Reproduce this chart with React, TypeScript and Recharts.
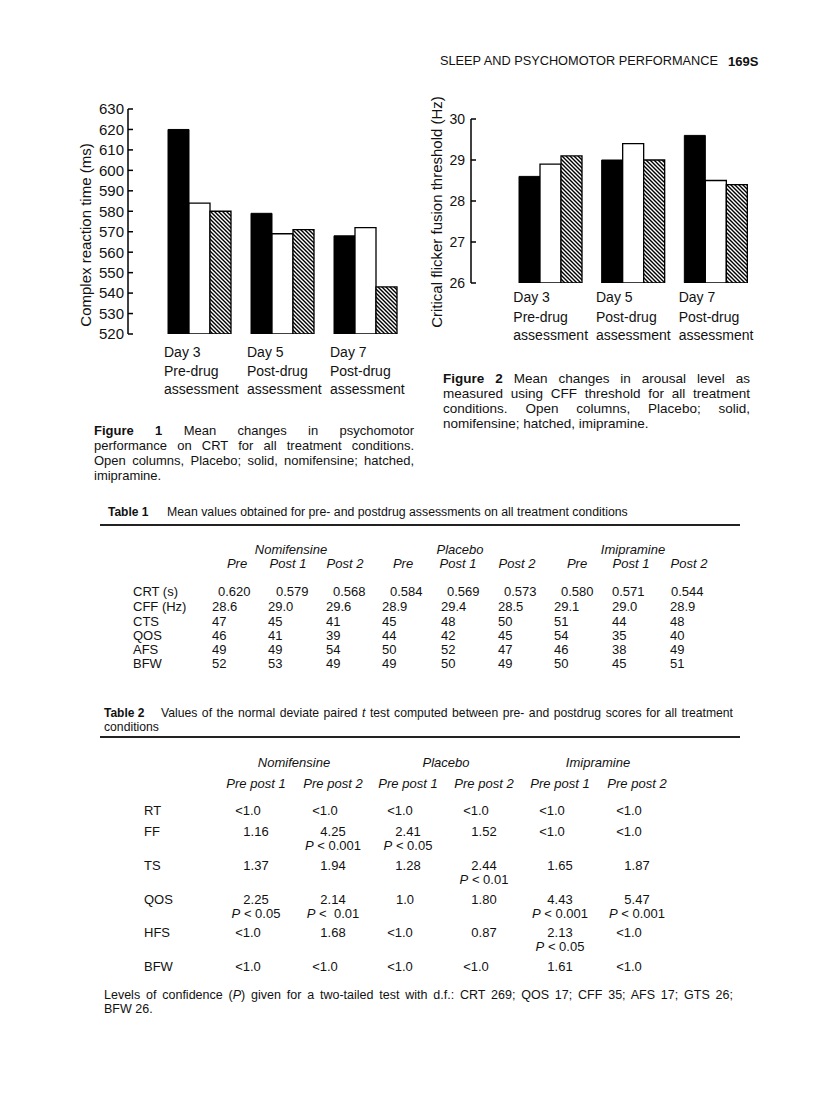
import React from 'react';
import { BarChart, Bar, XAxis, YAxis } from 'recharts';

const FONT = '"Liberation Sans", Arial, Helvetica, sans-serif';
const INK = '#111';

// ---------- Figure data ----------
const dayLabels = ['Day 3', 'Day 5', 'Day 7'];
const phaseLabels = ['Pre-drug', 'Post-drug', 'Post-drug'];
const thirdLabels = ['assessment', 'assessment', 'assessment'];

const crtNomifensine = [620, 579, 568];
const crtPlacebo = [584, 569, 572];
const crtImipramine = [580, 571, 543];
const crtTicks = [520, 530, 540, 550, 560, 570, 580, 590, 600, 610, 620, 630];

const cffNomifensine = [28.6, 29.0, 29.6];
const cffPlacebo = [28.9, 29.4, 28.5];
const cffImipramine = [29.1, 29.0, 28.4];
const cffTicks = [26, 27, 28, 29, 30];

// ---------- Table 1 ----------
const t1Groups = ['Nomifensine', 'Placebo', 'Imipramine'];
const t1Sub = ['Pre', 'Post 1', 'Post 2', 'Pre', 'Post 1', 'Post 2', 'Pre', 'Post 1', 'Post 2'];
const t1RowLabels = ['CRT (s)', 'CFF (Hz)', 'CTS', 'QOS', 'AFS', 'BFW'];
const t1CRT = ['0.620', '0.579', '0.568', '0.584', '0.569', '0.573', '0.580', '0.571', '0.544'];
const t1CFF = ['28.6', '29.0', '29.6', '28.9', '29.4', '28.5', '29.1', '29.0', '28.9'];
const t1CTS = ['47', '45', '41', '45', '48', '50', '51', '44', '48'];
const t1QOS = ['46', '41', '39', '44', '42', '45', '54', '35', '40'];
const t1AFS = ['49', '49', '54', '50', '52', '47', '46', '38', '49'];
const t1BFW = ['52', '53', '49', '49', '50', '49', '50', '45', '51'];

// ---------- Table 2 ----------
const t2Groups = ['Nomifensine', 'Placebo', 'Imipramine'];
const t2Sub = ['Pre post 1', 'Pre post 2', 'Pre post 1', 'Pre post 2', 'Pre post 1', 'Pre post 2'];
const t2RowLabels = ['RT', 'FF', 'TS', 'QOS', 'HFS', 'BFW'];
const t2RT = ['<1.0', '<1.0', '<1.0', '<1.0', '<1.0', '<1.0'];
const t2FF = ['1.16', '4.25', '2.41', '1.52', '<1.0', '<1.0'];
const t2FFp = ['', '< 0.001', '< 0.05', '', '', ''];
const t2TS = ['1.37', '1.94', '1.28', '2.44', '1.65', '1.87'];
const t2TSp = ['', '', '', '< 0.01', '', ''];
const t2QOS = ['2.25', '2.14', '1.0', '1.80', '4.43', '5.47'];
const t2QOSp = ['< 0.05', '<  0.01', '', '', '< 0.001', '< 0.001'];
const t2HFS = ['<1.0', '1.68', '<1.0', '0.87', '2.13', '<1.0'];
const t2HFSp = ['', '', '', '', '< 0.05', ''];
const t2BFW = ['<1.0', '<1.0', '<1.0', '<1.0', '1.61', '<1.0'];

// ---------- layout constants (positions only) ----------
const T1_COLX = [212, 268, 326, 382, 441, 498, 554, 612, 670];
const T1_CRTX = [218, 276, 333, 390, 447, 504, 561, 612, 671];
const T1_SUBX = [237, 288, 345, 403, 458, 517, 577, 631, 689];
const T1_GRPX = [291, 460, 633];
const T1_ROWY = [591, 606, 621, 635, 649, 663];

const T2_COLX = [256, 333, 408, 484, 560, 637];
const T2_GRPX = [294, 446, 598];
const T2_ROWY = [810, 831, 865, 899, 932, 966];

const crtData = dayLabels.map((d, i) => ({
  day: d,
  nomifensine: crtNomifensine[i],
  placebo: crtPlacebo[i],
  imipramine: crtImipramine[i],
}));
const cffData = dayLabels.map((d, i) => ({
  day: d,
  nomifensine: cffNomifensine[i],
  placebo: cffPlacebo[i],
  imipramine: cffImipramine[i],
}));

const makeYTick = (fontSize: number, gap: number) => (p: any) => (
  <g>
    <line x1={p.x} x2={p.x + 5} y1={p.y} y2={p.y} stroke="#000" strokeWidth={1.5} />
    <text x={p.x - gap} y={p.y} dy="0.36em" textAnchor="end" fontSize={fontSize} fontFamily={FONT} fill={INK}>
      {p.payload.value}
    </text>
  </g>
);

const makeXTick = (offsetX: number, lineYs: number[]) => (p: any) => {
  const i = dayLabels.indexOf(p.payload.value);
  const lines = [dayLabels[i], phaseLabels[i], thirdLabels[i]];
  return (
    <g>
      {lines.map((t, k) => (
        <text key={k} x={p.x + offsetX} y={p.y + lineYs[k]} fontSize={14} fontFamily={FONT} fill={INK}>
          {t}
        </text>
      ))}
    </g>
  );
};

const Txt = ({ x, y, children, align = 'left', size = 13, style = {} }: any) => {
  const tx = align === 'center' ? 'translate(-50%,-50%)' : align === 'right' ? 'translate(-100%,-50%)' : 'translateY(-50%)';
  return (
    <div
      style={{
        position: 'absolute',
        left: x,
        top: y,
        transform: tx,
        fontSize: size,
        lineHeight: 1,
        whiteSpace: 'pre',
        fontFamily: FONT,
        color: INK,
        ...style,
      }}
    >
      {children}
    </div>
  );
};

const JLine = ({ x, y, w, size = 13, last = false, children }: any) => (
  <div
    style={{
      position: 'absolute',
      left: x,
      top: y,
      width: w,
      transform: 'translateY(-50%)',
      fontSize: size,
      lineHeight: 1,
      textAlign: last ? 'left' : 'justify',
      textAlignLast: last ? 'left' : 'justify',
      fontFamily: FONT,
      color: INK,
    } as any}
  >
    {children}
  </div>
);

const t1Rows = [t1CRT, t1CFF, t1CTS, t1QOS, t1AFS, t1BFW];
const t2Rows = [t2RT, t2FF, t2TS, t2QOS, t2HFS, t2BFW];
const t2PRows = [null, t2FFp, t2TSp, t2QOSp, t2HFSp, null];

const numShift = (s: string) => (s.startsWith('<') ? -8 : s.length === 3 ? -3 : 0);

export default function App() {
  return (
    <div
      style={{
        position: 'absolute',
        left: 0,
        top: 0,
        width: 816,
        height: 1103,
        background: '#fff',
        fontFamily: FONT,
        color: INK,
        overflow: 'hidden',
      }}
    >
      <svg width={0} height={0} style={{ position: 'absolute' }}>
        <defs>
          <pattern id="hatch" patternUnits="userSpaceOnUse" width={4} height={4}>
            <rect width={4} height={4} fill="#fff" />
            <path d="M-1,-1 L5,5 M-1,3 L1,5 M3,-1 L5,1" stroke="#000" strokeWidth={1.4} />
          </pattern>
        </defs>
      </svg>

      {/* running head */}
      <Txt x={440} y={61} size={12.75}>SLEEP AND PSYCHOMOTOR PERFORMANCE</Txt>
      <Txt x={728} y={61} size={13} style={{ fontWeight: 'bold' }}>169S</Txt>

      {/* Figure 1 */}
      <div style={{ position: 'absolute', left: 59, top: 100 }}>
        <BarChart
          width={353}
          height={304}
          data={crtData}
          margin={{ top: 9, right: 5, bottom: 0, left: 0 }}
          barGap={0}
          barSize={21}
        >
          <XAxis
            dataKey="day"
            axisLine={false}
            tickLine={false}
            tickSize={0}
            tickMargin={0}
            height={70}
            padding={{ left: 30, right: 0 }}
            interval={0}
            tick={makeXTick(-35.5, [23, 42, 60])}
          />
          <YAxis
            width={69}
            domain={[520, 630]}
            ticks={crtTicks}
            allowDataOverflow
            axisLine={{ stroke: '#000', strokeWidth: 1.5 }}
            tickLine={false}
            tickSize={0}
            tickMargin={0}
            interval={0}
            tick={makeYTick(15, 4)}
          />
          <Bar dataKey="nomifensine" fill="#000" stroke="#000" strokeWidth={1} isAnimationActive={false} />
          <Bar dataKey="placebo" fill="#fff" stroke="#000" strokeWidth={1.3} isAnimationActive={false} />
          <Bar dataKey="imipramine" fill="url(#hatch)" stroke="#000" strokeWidth={1.3} isAnimationActive={false} />
        </BarChart>
      </div>
      <Txt x={85} y={235} size={15} align="center" style={{ transform: 'translate(-50%,-50%) rotate(-90deg)' }}>
        Complex reaction time (ms)
      </Txt>

      {/* Figure 2 */}
      <div style={{ position: 'absolute', left: 420, top: 110 }}>
        <BarChart
          width={345}
          height={243}
          data={cffData}
          margin={{ top: 9, right: 8, bottom: 0, left: 0 }}
          barGap={0}
          barSize={21}
        >
          <XAxis
            dataKey="day"
            axisLine={false}
            tickLine={false}
            tickSize={0}
            tickMargin={0}
            height={70}
            padding={{ left: 38, right: 0 }}
            interval={0}
            tick={makeXTick(-37, [19, 39, 57])}
          />
          <YAxis
            width={51}
            domain={[26, 30]}
            ticks={cffTicks}
            allowDataOverflow
            axisLine={{ stroke: '#000', strokeWidth: 1.5 }}
            tickLine={false}
            tickSize={0}
            tickMargin={0}
            interval={0}
            tick={makeYTick(14, 6)}
          />
          <Bar dataKey="nomifensine" fill="#000" stroke="#000" strokeWidth={1} isAnimationActive={false} />
          <Bar dataKey="placebo" fill="#fff" stroke="#000" strokeWidth={1.3} isAnimationActive={false} />
          <Bar dataKey="imipramine" fill="url(#hatch)" stroke="#000" strokeWidth={1.3} isAnimationActive={false} />
        </BarChart>
      </div>
      <Txt x={436} y={212} size={15} align="center" style={{ transform: 'translate(-50%,-50%) rotate(-90deg)' }}>
        Critical flicker fusion threshold (Hz)
      </Txt>

      {/* Figure 2 caption */}
      <JLine x={443} y={379} w={307} size={13.5}><b>Figure 2</b> Mean changes in arousal level as</JLine>
      <JLine x={443} y={394} w={307} size={13.5}>measured using CFF threshold for all treatment</JLine>
      <JLine x={443} y={409} w={307} size={13.5}>conditions. Open columns, Placebo; solid,</JLine>
      <JLine x={443} y={424} w={307} size={13.5} last>nomifensine; hatched, imipramine.</JLine>

      {/* Figure 1 caption */}
      <JLine x={94} y={430} w={320} size={13}><b>Figure 1</b> Mean changes in psychomotor</JLine>
      <JLine x={94} y={445} w={320} size={13}>performance on CRT for all treatment conditions.</JLine>
      <JLine x={94} y={460} w={320} size={13}>Open columns, Placebo; solid, nomifensine; hatched,</JLine>
      <JLine x={94} y={475} w={320} size={13} last>imipramine.</JLine>

      {/* Table 1 */}
      <Txt x={108} y={512} size={12} style={{ fontWeight: 'bold' }}>Table 1</Txt>
      <Txt x={167} y={512} size={12.3}>Mean values obtained for pre- and postdrug assessments on all treatment conditions</Txt>
      <div style={{ position: 'absolute', left: 100, top: 524, width: 640, height: 1.5, background: '#222' }} />
      {t1Groups.map((g, i) => (
        <Txt key={'g1' + i} x={T1_GRPX[i]} y={549} align="center" size={13} style={{ fontStyle: 'italic' }}>{g}</Txt>
      ))}
      {t1Sub.map((s, i) => (
        <Txt key={'s1' + i} x={T1_SUBX[i]} y={563} align="center" size={13} style={{ fontStyle: 'italic' }}>{s}</Txt>
      ))}
      {t1RowLabels.map((r, i) => (
        <Txt key={'r1' + i} x={133} y={T1_ROWY[i]} size={13}>{r}</Txt>
      ))}
      {t1Rows.map((row, ri) =>
        row.map((v, ci) => (
          <Txt key={'v1' + ri + '-' + ci} x={ri === 0 ? T1_CRTX[ci] : T1_COLX[ci]} y={T1_ROWY[ri]} size={13}>{v}</Txt>
        ))
      )}

      {/* Table 2 */}
      <Txt x={104} y={713} size={12} style={{ fontWeight: 'bold' }}>Table 2</Txt>
      <JLine x={161} y={713} w={572} size={12.2}>Values of the normal deviate paired <i>t</i> test computed between pre- and postdrug scores for all treatment</JLine>
      <Txt x={104} y={727} size={12.2}>conditions</Txt>
      <div style={{ position: 'absolute', left: 100, top: 736, width: 640, height: 1.5, background: '#222' }} />
      {t2Groups.map((g, i) => (
        <Txt key={'g2' + i} x={T2_GRPX[i]} y={762} align="center" size={13} style={{ fontStyle: 'italic' }}>{g}</Txt>
      ))}
      {t2Sub.map((s, i) => (
        <Txt key={'s2' + i} x={T2_COLX[i]} y={783} align="center" size={13} style={{ fontStyle: 'italic' }}>{s}</Txt>
      ))}
      {t2RowLabels.map((r, i) => (
        <Txt key={'r2' + i} x={144} y={T2_ROWY[i]} size={13}>{r}</Txt>
      ))}
      {t2Rows.map((row, ri) =>
        row.map((v, ci) => (
          <Txt key={'v2' + ri + '-' + ci} x={T2_COLX[ci] + numShift(v)} y={T2_ROWY[ri]} align="center" size={13}>{v}</Txt>
        ))
      )}
      {t2PRows.map((row, ri) =>
        row
          ? row.map((v, ci) =>
              v ? (
                <Txt key={'p2' + ri + '-' + ci} x={T2_COLX[ci]} y={T2_ROWY[ri] + 14} align="center" size={13}>
                  <i>P</i> {v}
                </Txt>
              ) : null
            )
          : null
      )}

      {/* footnote */}
      <JLine x={104} y={995} w={629} size={12.5}>
        Levels of confidence (<i>P</i>) given for a two-tailed test with d.f.: CRT 269; QOS 17; CFF 35; AFS 17; GTS 26;
      </JLine>
      <Txt x={104} y={1009} size={12.5}>BFW 26.</Txt>
    </div>
  );
}
